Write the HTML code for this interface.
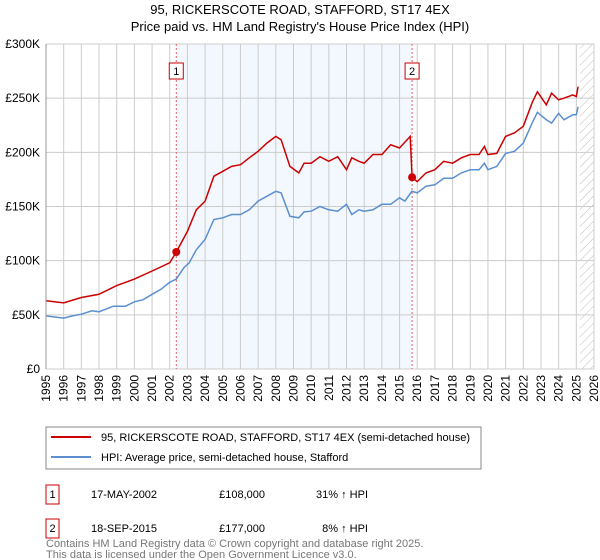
<!DOCTYPE html>
<html><head><meta charset="utf-8"><style>
body{margin:0;background:#fff;font-family:"Liberation Sans","DejaVu Sans",sans-serif;}
svg{display:block}
</style></head><body>
<svg id="c" width="600" height="560" xmlns="http://www.w3.org/2000/svg">
<defs><pattern id="hatch" width="6" height="6" patternUnits="userSpaceOnUse" patternTransform="rotate(45)"><line x1="0" y1="0" x2="0" y2="6" stroke="#bbb" stroke-width="1"/></pattern></defs>
<text x="300" y="14" text-anchor="middle" font-size="13" fill="#000">95, RICKERSCOTE ROAD, STAFFORD, ST17 4EX</text>
<text x="300" y="31" text-anchor="middle" font-size="13" fill="#000">Price paid vs. HM Land Registry's House Price Index (HPI)</text>
<g id="plot"></g>
<g>
<rect x="46" y="427" width="435" height="42" fill="#fff" stroke="#888"/>
<line x1="51" y1="437" x2="91" y2="437" stroke="#cc0000" stroke-width="2"/>
<text x="101" y="441" font-size="11">95, RICKERSCOTE ROAD, STAFFORD, ST17 4EX (semi-detached house)</text>
<line x1="51" y1="457" x2="91" y2="457" stroke="#5b8fd0" stroke-width="2"/>
<text x="101" y="461" font-size="11">HPI: Average price, semi-detached house, Stafford</text>
</g>
<g font-size="11">
<rect x="46" y="485" width="13" height="19" fill="#fff" stroke="#cc0000"/><text x="52.5" y="498" text-anchor="middle">1</text>
<text x="91" y="498">17-MAY-2002</text><text x="265" y="498" text-anchor="end">£108,000</text><text x="368" y="498" text-anchor="end">31% ↑ HPI</text>
<rect x="46" y="519" width="13" height="19" fill="#fff" stroke="#cc0000"/><text x="52.5" y="532" text-anchor="middle">2</text>
<text x="91" y="532">18-SEP-2015</text><text x="265" y="532" text-anchor="end">£177,000</text><text x="368" y="532" text-anchor="end">8% ↑ HPI</text>
</g>
<text x="46" y="547" font-size="11" fill="#777">Contains HM Land Registry data © Crown copyright and database right 2025.</text>
<text x="46" y="558" font-size="11" fill="#777">This data is licensed under the Open Government Licence v3.0.</text>
</svg>
<script>
const hpiYears=[1995,1996,1996.5,1997,1997.6,1998,1998.8,1999.5,2000,2000.5,2001,2001.5,2002,2002.37,2002.8,2003.1,2003.5,2004,2004.5,2005,2005.5,2006,2006.5,2007,2007.5,2008,2008.3,2008.8,2009.3,2009.6,2010,2010.5,2011,2011.5,2012,2012.3,2012.7,2013,2013.5,2014,2014.5,2015,2015.3,2015.7,2016,2016.5,2017,2017.5,2018,2018.5,2019,2019.5,2019.8,2020,2020.5,2021,2021.5,2022,2022.5,2022.8,2023.3,2023.6,2024,2024.3,2024.8,2025,2025.1];
const hpiValues=[49,47,49,50.6,53.7,52.8,58,58,62,64,69,73.6,80,83,93.5,98,110,119.6,138,139.6,142.6,142.6,147,155,159.5,164,162.6,141,139.6,145,145.7,150,147,145.7,152,142.6,147,145.7,147,152,152,158,155,164,162.6,168.7,170,176,176,181,184,184,190,184,187,199,201,208.6,227,237,230,227,236,230,234.6,234.6,242];
const priceYears=[1995,1996,1997,1998,1999,2000,2001,2002,2002.37,2003,2003.5,2004,2004.5,2005,2005.5,2006,2006.5,2007,2007.5,2008,2008.3,2008.8,2009.3,2009.6,2010,2010.5,2011,2011.5,2012,2012.3,2012.7,2013,2013.5,2014,2014.5,2015,2015.6,2015.71,2016,2016.5,2017,2017.5,2018,2018.5,2019,2019.5,2019.8,2020,2020.5,2021,2021.5,2022,2022.5,2022.8,2023.3,2023.6,2024,2024.3,2024.8,2025,2025.1];
const priceValues=[63,61,66,69,77,83,90.5,98,108,127,147,155,178,182.5,187,188.6,195,201,208.6,214.7,211.7,187,181,190,190,196,191.7,196,184,195,191.7,190,198,198,207,204,214.7,177,173,181,184,191.7,190,195,198,198,205.5,198,199,214.7,218,224,245.7,256,243.9,254.6,248.5,250,253,251.5,260.7];
const saleYears=[2002.37,2015.71];
const saleValues=[108,177];
const saleLabels=["1","2"];
const yTicks=[0,50,100,150,200,250,300];
const yTickLabels=["£0","£50K","£100K","£150K","£200K","£250K","£300K"];
const xStart=1995,xEnd=2026;
const X0=46,X1=594,Y0=369,Y1=44;
const xs=y=>X0+(y-xStart)/(xEnd-xStart)*(X1-X0);
const ys=v=>Y0-v/300*(Y0-Y1);
const NS="http://www.w3.org/2000/svg";
const g=document.getElementById('plot');
function mk(t,a){const e=document.createElementNS(NS,t);for(const k in a)e.setAttribute(k,a[k]);g.appendChild(e);return e;}
let e=mk('rect',{x:xs(saleYears[0]),y:Y1,width:xs(saleYears[1])-xs(saleYears[0]),height:Y0-Y1,fill:'#f3f7fe'});


e=mk('rect',{x:xs(2025.2),y:Y1,width:X1-xs(2025.2),height:Y0-Y1,fill:'url(#hatch)'});


for(let yr=xStart;yr<=xEnd;yr++){
 e=mk('line',{x1:xs(yr),x2:xs(yr),y1:Y1,y2:Y0,stroke:'#ccc','stroke-width':1});
 
 
 const t=mk('text',{x:0,y:0,'font-size':12,'text-anchor':'end',transform:`translate(${xs(yr)+4},${Y0+6}) rotate(-90)`});
 t.textContent=yr;
 
 
}
yTicks.forEach((v,i)=>{
 e=mk('line',{x1:X0,x2:X1,y1:ys(v),y2:ys(v),stroke:'#ccc','stroke-width':1});
 
 
 const t=mk('text',{x:40,y:ys(v)+4,'font-size':12,'text-anchor':'end'});
 t.textContent=yTickLabels[i];
 
 
});
saleYears.forEach((yr,i)=>{
 e=mk('line',{x1:xs(yr),x2:xs(yr),y1:Y1,y2:Y0,stroke:'#e06060','stroke-width':1,'stroke-dasharray':'2,2'});
 
 
 e=mk('rect',{x:xs(yr)-7,y:63,width:14,height:16,fill:'#fff',stroke:'#cc0000'});
 
 
 const t=mk('text',{x:xs(yr),y:75,'font-size':11,'text-anchor':'middle'});
 t.textContent=saleLabels[i];
 
 
});
function path(xa,va){return xa.map((y,i)=>(i?'L':'M')+xs(y).toFixed(1)+','+ys(va[i]).toFixed(1)).join('');}
e=mk('path',{d:path(hpiYears,hpiValues),fill:'none',stroke:'#5b8fd0','stroke-width':1.5});


e=mk('path',{d:path(priceYears,priceValues),fill:'none',stroke:'#cc0000','stroke-width':1.5});


saleYears.forEach((yr,i)=>{
 e=mk('circle',{cx:xs(yr),cy:ys(saleValues[i]),r:4,fill:'#cc0000'});
 
 
});
e=mk('line',{x1:X0,x2:X0,y1:Y1,y2:Y0,stroke:'#999'});


</script>
</body></html>
